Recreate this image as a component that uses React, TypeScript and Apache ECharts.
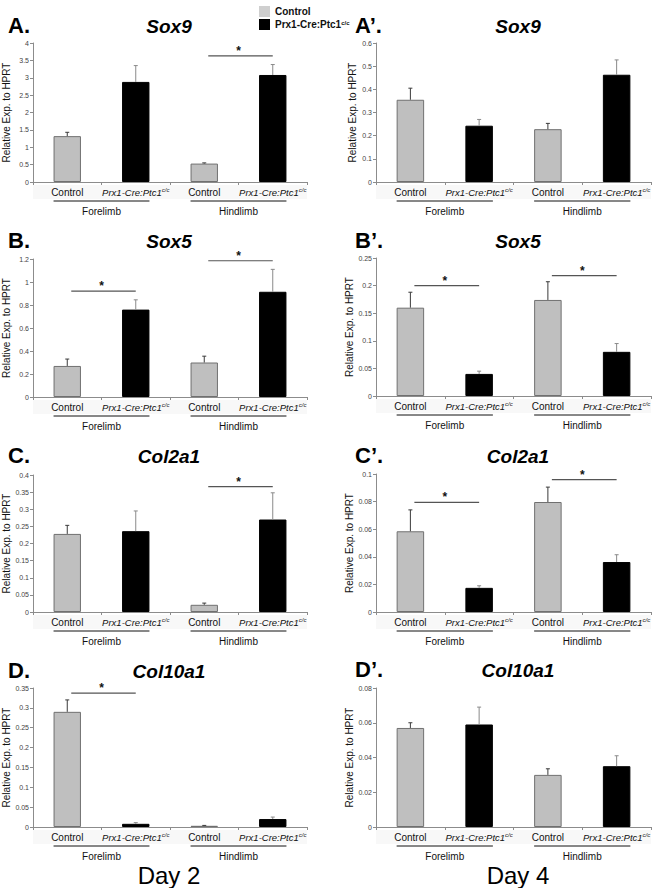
import { useEffect, useRef } from "react";
import * as echarts from "echarts";

const categories = ["Control", "Prx1-Cre:Ptc1c/c", "Control", "Prx1-Cre:Ptc1c/c"];
const limbGroups = ["Forelimb", "Hindlimb"];
const seriesNames = ["Control", "Prx1-Cre:Ptc1c/c"];
const dayLabels = ["Day 2", "Day 4"];
const panelLetters = ["A.", "A\u2019.", "B.", "B\u2019.", "C.", "C\u2019.", "D.", "D\u2019."];
const geneTitles = ["Sox9", "Sox9", "Sox5", "Sox5", "Col2a1", "Col2a1", "Col10a1", "Col10a1"];
const yAxisTitle = "Relative Exp. to HPRT";

// values: Control-Forelimb, Prx1-Forelimb, Control-Hindlimb, Prx1-Hindlimb
const sox9Day2 = [1.32, 2.88, 0.53, 3.08];
const sox9Day2Err = [0.11, 0.47, 0.02, 0.3];
const sox9Day4 = [0.355, 0.243, 0.228, 0.463];
const sox9Day4Err = [0.05, 0.027, 0.025, 0.064];
const sox5Day2 = [0.27, 0.76, 0.3, 0.915];
const sox5Day2Err = [0.06, 0.085, 0.055, 0.195];
const sox5Day4 = [0.16, 0.04, 0.174, 0.08];
const sox5Day4Err = [0.028, 0.005, 0.033, 0.015];
const col2a1Day2 = [0.228, 0.236, 0.021, 0.27];
const col2a1Day2Err = [0.025, 0.059, 0.005, 0.078];
const col2a1Day4 = [0.0585, 0.0175, 0.0797, 0.0362];
const col2a1Day4Err = [0.0155, 0.0015, 0.0108, 0.0053];
const col10a1Day2 = [0.29, 0.008, 0.003, 0.02];
const col10a1Day2Err = [0.03, 0.003, 0.001, 0.005];
const col10a1Day4 = [0.057, 0.059, 0.03, 0.035];
const col10a1Day4Err = [0.003, 0.01, 0.0035, 0.006];

// significance brackets: [fromCategory, toCategory, level]
const sox9Day2Sig = [[2, 3, 3.63]];
const sox9Day4Sig: number[][] = [];
const sox5Day2Sig = [[0, 1, 0.92], [2, 3, 1.185]];
const sox5Day4Sig = [[0, 1, 0.2], [2, 3, 0.218]];
const col2a1Day2Sig = [[2, 3, 0.366]];
const col2a1Day4Sig = [[0, 1, 0.0794], [2, 3, 0.0959]];
const col10a1Day2Sig = [[0, 1, 0.337]];
const col10a1Day4Sig: number[][] = [];

const yMaxes = [4, 0.6, 1.2, 0.25, 0.4, 0.1, 0.35, 0.08];
const yIntervals = [0.5, 0.1, 0.2, 0.05, 0.05, 0.02, 0.05, 0.02];

const panelValues = [sox9Day2, sox9Day4, sox5Day2, sox5Day4, col2a1Day2, col2a1Day4, col10a1Day2, col10a1Day4];
const panelErrors = [sox9Day2Err, sox9Day4Err, sox5Day2Err, sox5Day4Err, col2a1Day2Err, col2a1Day4Err, col10a1Day2Err, col10a1Day4Err];
const panelSig = [sox9Day2Sig, sox9Day4Sig, sox5Day2Sig, sox5Day4Sig, col2a1Day2Sig, col2a1Day4Sig, col10a1Day2Sig, col10a1Day4Sig];

// layout (positions only)
const layout = [
  { left: 31, top: 43, width: 276, height: 139, titleY: 26 },
  { left: 376, top: 43, width: 275, height: 139, titleY: 26 },
  { left: 31, top: 259, width: 276, height: 138, titleY: 241 },
  { left: 376, top: 258, width: 275, height: 138, titleY: 241 },
  { left: 31, top: 475, width: 276, height: 137, titleY: 456 },
  { left: 376, top: 474, width: 275, height: 138, titleY: 456 },
  { left: 31, top: 688, width: 276, height: 139, titleY: 671 },
  { left: 376, top: 688, width: 275, height: 139, titleY: 670 },
];
const letterX = [8, 355];
const titleX = [169, 518];

const FONT = "'Liberation Sans', Arial, Helvetica, sans-serif";
const GREY = "#bfbfbf";

const prxRich = {
  i: { fontStyle: "italic", fontSize: 9.5, fontFamily: FONT, color: "#111" },
  s: { fontStyle: "italic", fontSize: 6, fontFamily: FONT, color: "#111", verticalAlign: "top" as const },
  n: { fontSize: 10, fontFamily: FONT, color: "#111" },
};

function catLabel(v: string) {
  if (v === "Control") return "{n|Control}";
  return "{i|Prx1-Cre:Ptc1}{s|c/c}";
}

function renderError(params: any, api: any) {
  const k = api.value(0);
  const v = api.value(1);
  const e = api.value(2);
  const p0 = api.coord([k, v]);
  const p1 = api.coord([k, v + e]);
  const stroke = k % 2 === 0 ? "#3a3a3a" : "#8a8a8a";
  return {
    type: "group",
    children: [
      { type: "line", shape: { x1: p0[0], y1: p0[1], x2: p1[0], y2: p1[1] }, style: { stroke, lineWidth: 1 } },
      { type: "line", shape: { x1: p1[0] - 2, y1: p1[1], x2: p1[0] + 2, y2: p1[1] }, style: { stroke, lineWidth: 1 } },
    ],
  };
}

function renderSig(params: any, api: any) {
  const a = api.coord([api.value(0), api.value(2)]);
  const b = api.coord([api.value(1), api.value(2)]);
  return {
    type: "group",
    children: [
      { type: "line", shape: { x1: a[0] + 4, y1: a[1], x2: b[0], y2: b[1] }, style: { stroke: "#555", lineWidth: 1.2 } },
      {
        type: "text",
        x: (a[0] + b[0]) / 2,
        y: a[1] - 11,
        style: { text: "*", align: "center", verticalAlign: "top", fontSize: 12, fontWeight: "bold", fontFamily: FONT, fill: "#111" },
      },
    ],
  };
}

function renderGroup(params: any, api: any) {
  const s = api.value(0);
  const e = api.value(1);
  const g = api.value(2);
  const cs = params.coordSys;
  const bw = (cs.width / categories.length) * 0.4;
  const p0 = api.coord([s, 0]);
  const p1 = api.coord([e, 0]);
  const y0 = cs.y + cs.height;
  const children: any[] = [];
  if (params.dataIndex === 0) {
    children.push({ type: "rect", shape: { x: cs.x, y: y0 + 3, width: cs.width, height: 14 }, style: { fill: "#f8f8f8" } });
  }
  children.push({
    type: "line",
    shape: { x1: p0[0] - bw / 2, y1: y0 + 19, x2: p1[0] + bw / 2, y2: y0 + 19 },
    style: { stroke: "#111", lineWidth: 1 },
  });
  children.push({
    type: "text",
    x: (p0[0] + p1[0]) / 2,
    y: y0 + 29,
    style: { text: limbGroups[g], align: "center", verticalAlign: "middle", fontSize: 10, fontFamily: FONT, fill: "#111" },
  });
  return { type: "group", children };
}

function buildOption() {
  const grid = layout.map((l) => ({ left: l.left, top: l.top, width: l.width, height: l.height }));
  const xAxis = layout.map((_, i) => ({
    type: "category",
    gridIndex: i,
    data: categories,
    axisLine: { lineStyle: { color: "#8c8c8c", width: 1 } },
    axisTick: { show: true, length: 3, lineStyle: { color: "#8c8c8c" } },
    axisLabel: { interval: 0, margin: 5, formatter: catLabel, rich: prxRich },
    splitLine: { show: false },
  }));
  const yAxis = layout.map((l, i) => ({
    type: "value",
    gridIndex: i,
    min: 0,
    max: yMaxes[i],
    interval: yIntervals[i],
    name: yAxisTitle,
    nameLocation: "middle",
    nameGap: i % 2 === 0 ? 22 : 19,
    nameTextStyle: { fontSize: 10, fontFamily: FONT, color: "#111" },
    axisLine: { show: true, lineStyle: { color: "#8c8c8c", width: 1 } },
    axisTick: { show: true, length: 3, lineStyle: { color: "#8c8c8c" } },
    axisLabel: { fontSize: 7, fontFamily: FONT, color: "#444", margin: 4 },
    splitLine: { show: false },
  }));
  const series: any[] = [];
  panelValues.forEach((vals, i) => {
    series.push({
      type: "bar",
      name: seriesNames[0],
      xAxisIndex: i,
      yAxisIndex: i,
      barWidth: "40%",
      barGap: "-100%",
      data: vals.map((v, k) => (k % 2 === 0 ? v : "-")),
      itemStyle: { color: GREY, borderColor: "#707070", borderWidth: 1 },
      z: 2,
    });
    series.push({
      type: "bar",
      name: seriesNames[1],
      xAxisIndex: i,
      yAxisIndex: i,
      barWidth: "40%",
      barGap: "-100%",
      data: vals.map((v, k) => (k % 2 === 1 ? v : "-")),
      itemStyle: { color: "#000", borderColor: "#000", borderWidth: 1 },
      z: 2,
    });
    series.push({
      type: "custom",
      xAxisIndex: i,
      yAxisIndex: i,
      renderItem: renderError,
      data: vals.map((v, k) => [k, v, panelErrors[i][k]]),
      z: 3,
      silent: true,
    });
    if (panelSig[i].length) {
      series.push({
        type: "custom",
        xAxisIndex: i,
        yAxisIndex: i,
        renderItem: renderSig,
        data: panelSig[i],
        z: 3,
        silent: true,
      });
    }
    series.push({
      type: "custom",
      xAxisIndex: i,
      yAxisIndex: i,
      renderItem: renderGroup,
      data: [
        [0, 1, 0],
        [2, 3, 1],
      ],
      z: -1,
      silent: true,
    });
  });

  const graphic: any[] = [];
  layout.forEach((l, i) => {
    const col = i % 2;
    graphic.push({
      type: "text",
      left: letterX[col],
      top: l.titleY - 12,
      style: { text: panelLetters[i], fontSize: 22, fontWeight: "bold", fontFamily: FONT, fill: "#000" },
    });
    graphic.push({
      type: "text",
      x: titleX[col],
      y: l.titleY,
      style: {
        text: geneTitles[i],
        align: "center",
        verticalAlign: "middle",
        fontSize: 19,
        fontWeight: "bold",
        fontStyle: "italic",
        fontFamily: FONT,
        fill: "#000",
      },
    });
  });
  dayLabels.forEach((d, c) => {
    graphic.push({
      type: "text",
      x: titleX[c],
      y: 875,
      style: { text: d, align: "center", verticalAlign: "middle", fontSize: 24, fontFamily: FONT, fill: "#000" },
    });
  });

  return {
    animation: false,
    backgroundColor: "#fff",
    grid,
    xAxis,
    yAxis,
    series,
    graphic,
    legend: {
      orient: "vertical",
      left: 254,
      top: 1,
      itemWidth: 11,
      itemHeight: 11,
      itemGap: 2,
      icon: "rect",
      data: [
        { name: seriesNames[0], itemStyle: { color: "#cfcfcf", borderWidth: 0 } },
        { name: seriesNames[1], itemStyle: { color: "#000", borderWidth: 0 } },
      ],
      formatter: (n: string) => (n === seriesNames[0] ? "{b|Control}" : "{b|Prx1-Cre:Ptc1}{s|c/c}"),
      textStyle: {
        rich: {
          b: { fontSize: 10, fontWeight: "bold", fontFamily: FONT, color: "#111" },
          s: { fontSize: 6, fontWeight: "bold", fontFamily: FONT, color: "#111", verticalAlign: "top" },
        },
      },
      selectedMode: false,
    },
  };
}

export default function App() {
  const ref = useRef<HTMLDivElement>(null);
  useEffect(() => {
    if (!ref.current) return;
    const chart = echarts.init(ref.current, undefined, { renderer: "svg" });
    chart.setOption(buildOption() as any);
    return () => chart.dispose();
  }, []);
  return <div ref={ref} style={{ position: "absolute", left: 0, top: 0, width: 658, height: 888 }} />;
}
